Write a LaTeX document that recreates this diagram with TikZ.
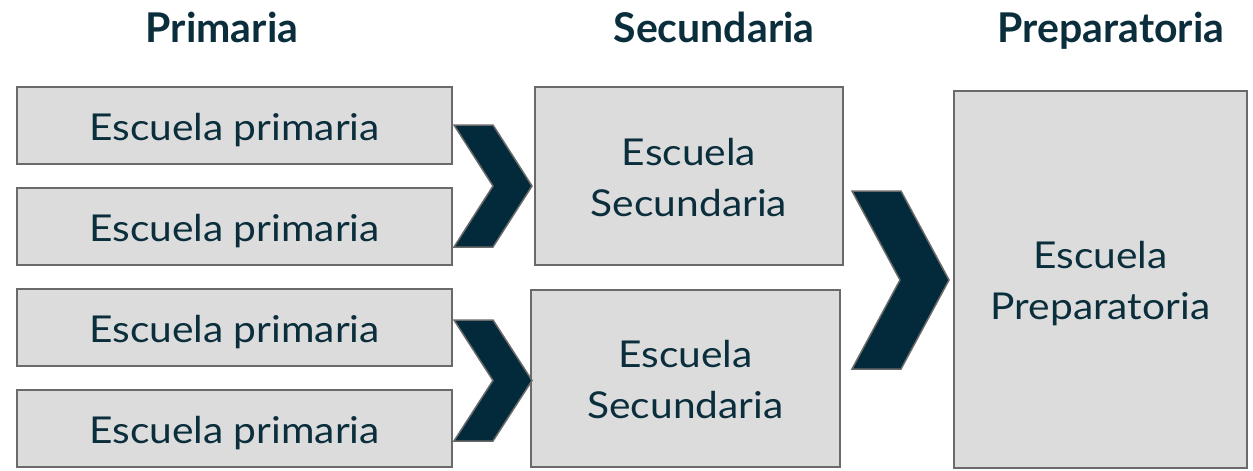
\documentclass[tikz,border=0pt]{standalone}
\usepackage{fontspec}
\setmainfont{Lato}
\newfontfamily\schoolfont{Lato}[FakeStretch=1.1]
\usepackage{tikz}
\usetikzlibrary{positioning}

\definecolor{inkteal}{HTML}{0B2E3C}
\definecolor{chevfill}{HTML}{032A3A}
\definecolor{boxgray}{HTML}{DCDCDC}
\definecolor{edgegray}{HTML}{6A6A6A}

\tikzset{
    school/.style={rectangle,draw=edgegray,fill=boxgray,line width=2pt,text=inkteal,
        font=\schoolfont\fontsize{37}{51}\selectfont,align=center,text height=29.5pt,text depth=0pt,inner sep=0pt},
    twoline/.style={text height=80.5pt},
    level/.style={text=inkteal,font=\bfseries\fontsize{41}{48}\selectfont,anchor=base},
    chevron/.style={fill=chevfill,draw=edgegray,line width=1.5pt,line join=miter}
}

\begin{document}
\begin{tikzpicture}[x=1pt,y=-1pt]
    \useasboundingbox (0,0) rectangle (1253,471);

    % headers
    \node[level] (hprim) at (222,42) {Primaria};
    \node[level] (hsec) at (714,42) {Secundaria};
    \node[level] (hprep) at (1111,42) {Preparatoria};

    % primary schools
    \node[school,minimum width=435pt,minimum height=77pt] (prim1) at (234.5,125.5) {Escuela primaria};
    \node[school,minimum width=435pt,minimum height=77pt,below=22pt of prim1] (prim2) {Escuela primaria};
    \node[school,minimum width=435pt,minimum height=77pt,below=22pt of prim2] (prim3) {Escuela primaria};
    \node[school,minimum width=435pt,minimum height=77pt,below=22pt of prim3] (prim4) {Escuela primaria};

    % secondary schools
    \node[school,twoline,minimum width=308pt,minimum height=178pt] (sec1) at (689,176) {Escuela\\Secundaria};
    \node[school,twoline,minimum width=309pt,minimum height=177pt] (sec2) at (685.5,378.5) {Escuela\\Secundaria};

    % high school
    \node[school,twoline,minimum width=293pt,minimum height=377pt] (prep) at (1100.5,279.5) {Escuela\\Preparatoria};

    % chevrons
    \draw[chevron] (454,125) -- (493,125) -- (532,186) -- (493,247) -- (454,247) -- (493,186) -- cycle;
    \draw[chevron] (454,320) -- (493,320) -- (532,380.5) -- (493,441) -- (454,441) -- (493,380.5) -- cycle;
    \draw[chevron] (852,191) -- (901,191) -- (949,280) -- (901,369) -- (852,369) -- (900,280) -- cycle;
\end{tikzpicture}
\end{document}
